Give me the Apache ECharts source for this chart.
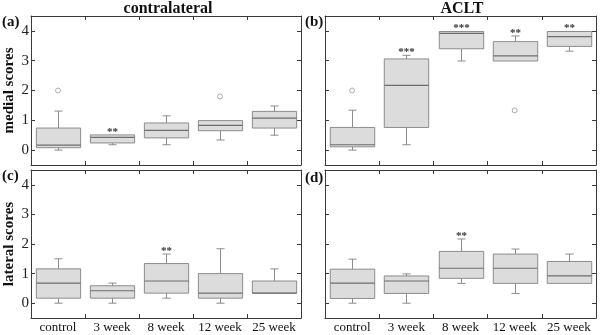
<!DOCTYPE html>
<html>
<head>
<meta charset="utf-8">
<script src="https://cdn.jsdelivr.net/npm/echarts@6/dist/echarts.min.js"></script>
<style>html,body{margin:0;padding:0;background:#fff;}#c{width:600px;height:335px;}</style>
</head>
<body>
<div id="c"></div>
<script>
// ---- data ----
const categories = ['control', '3 week', '8 week', '12 week', '25 week'];
const yTicks = [0, 1, 2, 3, 4];
const panelTitles = ['contralateral', 'ACLT'];
const panelLetters = ['(a)', '(b)', '(c)', '(d)'];
const rowNames = ['medial scores', 'lateral scores'];

// five-number summaries: [low whisker, Q1, median, Q3, high whisker]
const medialContra = [[0, 0.08, 0.17, 0.74, 1.31], [0.18, 0.24, 0.43, 0.51, 0.51], [0.18, 0.41, 0.66, 0.91, 1.15], [0.34, 0.65, 0.83, 0.99, 0.99], [0.5, 0.74, 1.07, 1.3, 1.48]];
const medialContraOutliers = [[0, 2.0], [3, 1.8]];
const medialContraSig = ['', '**', '', '', ''];

const medialACLT = [[0, 0.11, 0.18, 0.76, 1.34], [0.18, 0.76, 2.17, 3.06, 3.18], [2.99, 3.40, 3.92, 3.98, 3.98], [2.99, 2.99, 3.16, 3.64, 3.83], [3.32, 3.48, 3.81, 3.98, 3.98]];
const medialACLTOutliers = [[0, 2.0], [3, 1.33]];
const medialACLTSig = ['', '***', '***', '**', '**'];

const lateralContra = [[0, 0.17, 0.68, 1.16, 1.5], [0, 0.17, 0.42, 0.59, 0.68], [0.17, 0.34, 0.75, 1.34, 1.66], [0, 0.17, 0.34, 1.0, 1.84], [0.34, 0.34, 0.34, 0.75, 1.16]];
const lateralContraOutliers = [];
const lateralContraSig = ['', '', '**', '', ''];

const lateralACLT = [[0, 0.16, 0.68, 1.15, 1.49], [0, 0.33, 0.75, 0.92, 0.99], [0.67, 0.84, 1.18, 1.75, 2.17], [0.33, 0.67, 1.18, 1.66, 1.83], [0.67, 0.67, 0.92, 1.41, 1.66]];
const lateralACLTOutliers = [];
const lateralACLTSig = ['', '', '**', '', ''];

// ---- build ----
const panels = [
  { box: medialContra, out: medialContraOutliers, sig: medialContraSig },
  { box: medialACLT, out: medialACLTOutliers, sig: medialACLTSig },
  { box: lateralContra, out: lateralContraOutliers, sig: lateralContraSig },
  { box: lateralACLT, out: lateralACLTOutliers, sig: lateralACLTSig }
];
const grids = [
  { left: 31, top: 16, width: 270, height: 149 },
  { left: 325, top: 16, width: 271, height: 149 },
  { left: 31, top: 170, width: 270, height: 148 },
  { left: 325, top: 170, width: 271, height: 148 }
];
const FONT = 'Liberation Serif';
const LINE = '#3a3a3a';
const BOXFILL = '#dcdcdc';
const BOXEDGE = '#8c8c8c';
const MEDIAN = '#6e6e6e';

const xAxis = [], yAxis = [], series = [];
grids.forEach((g, i) => {
  const showX = i >= 2, showY = i % 2 === 0;
  ['bottom', 'top'].forEach((pos, k) => {
    xAxis.push({
      type: 'category', gridIndex: i, position: pos, data: categories,
      boundaryGap: true,
      axisLine: { show: true, onZero: false, lineStyle: { color: LINE, width: 1 } },
      axisTick: { show: true, inside: true, length: 4, interval: 0, lineStyle: { color: LINE } },
      axisLabel: { show: showX && k === 0, interval: 0, hideOverlap: false, fontFamily: FONT, fontSize: 13, color: '#111', margin: 3 },
      splitLine: { show: false }
    });
  });
  ['left', 'right'].forEach((pos, k) => {
    yAxis.push({
      type: 'value', gridIndex: i, position: pos, min: -0.5, max: 4.5,
      axisLine: { show: true, onZero: false, lineStyle: { color: LINE, width: 1 } },
      axisTick: { show: true, inside: true, length: 4, customValues: yTicks, lineStyle: { color: LINE } },
      axisLabel: { show: showY && k === 0, customValues: yTicks, fontFamily: FONT, fontSize: 15, color: '#222', margin: 2 },
      splitLine: { show: false },
      name: (showY && k === 0) ? rowNames[i >> 1] : '',
      nameLocation: 'middle', nameRotate: 90, nameGap: 14,
      nameTextStyle: { fontFamily: FONT, fontSize: 15, fontWeight: 'bold', color: '#111' }
    });
  });
  const p = panels[i];
  const sig = p.sig;
  series.push({
    type: 'custom', xAxisIndex: 2 * i, yAxisIndex: 2 * i,
    data: p.box.map((b, j) => [j].concat(b)),
    renderItem: function (params, api) {
      const j = api.value(0);
      const lo = api.coord([j, api.value(1)]);
      const q1 = api.coord([j, api.value(2)]);
      const md = api.coord([j, api.value(3)]);
      const q3 = api.coord([j, api.value(4)]);
      const hi = api.coord([j, api.value(5)]);
      const band = api.size([1, 0])[0];
      const w = band * 0.82, cap = band * 0.15;
      const x = Math.round(md[0]) + 0.5;
      const ws = { stroke: BOXEDGE, lineWidth: 1 };
      const children = [];
      if (hi[1] < q3[1] - 0.5) {
        children.push({ type: 'line', shape: { x1: x, y1: q3[1], x2: x, y2: hi[1] }, style: ws });
        children.push({ type: 'line', shape: { x1: x - cap / 2, y1: hi[1], x2: x + cap / 2, y2: hi[1] }, style: ws });
      }
      if (lo[1] > q1[1] + 0.5) {
        children.push({ type: 'line', shape: { x1: x, y1: q1[1], x2: x, y2: lo[1] }, style: ws });
        children.push({ type: 'line', shape: { x1: x - cap / 2, y1: lo[1], x2: x + cap / 2, y2: lo[1] }, style: ws });
      }
      children.push({ type: 'rect', shape: { x: x - w / 2, y: q3[1], width: w, height: q1[1] - q3[1] }, style: { fill: BOXFILL, stroke: BOXEDGE, lineWidth: 1 } });
      children.push({ type: 'line', shape: { x1: x - w / 2, y1: md[1], x2: x + w / 2, y2: md[1] }, style: { stroke: MEDIAN, lineWidth: 1.2 } });
      const s = sig[params.dataIndex];
      if (s) {
        children.push({ type: 'text', style: { text: s, x: x, y: hi[1] - 3, align: 'center', verticalAlign: 'middle', fontFamily: FONT, fontSize: 11, fontWeight: 'bold', fill: '#333' } });
      }
      return { type: 'group', children: children };
    },
    silent: true, animation: false
  });
  series.push({
    type: 'scatter', xAxisIndex: 2 * i, yAxisIndex: 2 * i,
    data: p.out, symbol: 'circle', symbolSize: 5,
    itemStyle: { color: '#fff', borderColor: '#999', borderWidth: 1 },
    silent: true, animation: false
  });
});

const titleStyle = { fontFamily: FONT, fontSize: 16, fontWeight: 'bold', color: '#111' };
const letterStyle = { fontFamily: FONT, fontSize: 15, fontWeight: 'bold', color: '#111' };
const title = [
  { text: panelTitles[0], left: 168, top: 1, padding: 0, textAlign: 'center', textStyle: titleStyle },
  { text: panelTitles[1], left: 462, top: 1, padding: 0, textAlign: 'center', textStyle: titleStyle },
  { text: panelLetters[0], left: 2, top: 15, padding: 0, textStyle: letterStyle },
  { text: panelLetters[1], left: 305, top: 15, padding: 0, textStyle: letterStyle },
  { text: panelLetters[2], left: 2, top: 169, padding: 0, textStyle: letterStyle },
  { text: panelLetters[3], left: 305, top: 171, padding: 0, textStyle: letterStyle }
];

const chart = echarts.init(document.getElementById('c'), null, { renderer: 'canvas' });
chart.setOption({
  animation: false,
  backgroundColor: '#fff',
  title: title,
  grid: grids,
  xAxis: xAxis,
  yAxis: yAxis,
  series: series
});
</script>
</body>
</html>
